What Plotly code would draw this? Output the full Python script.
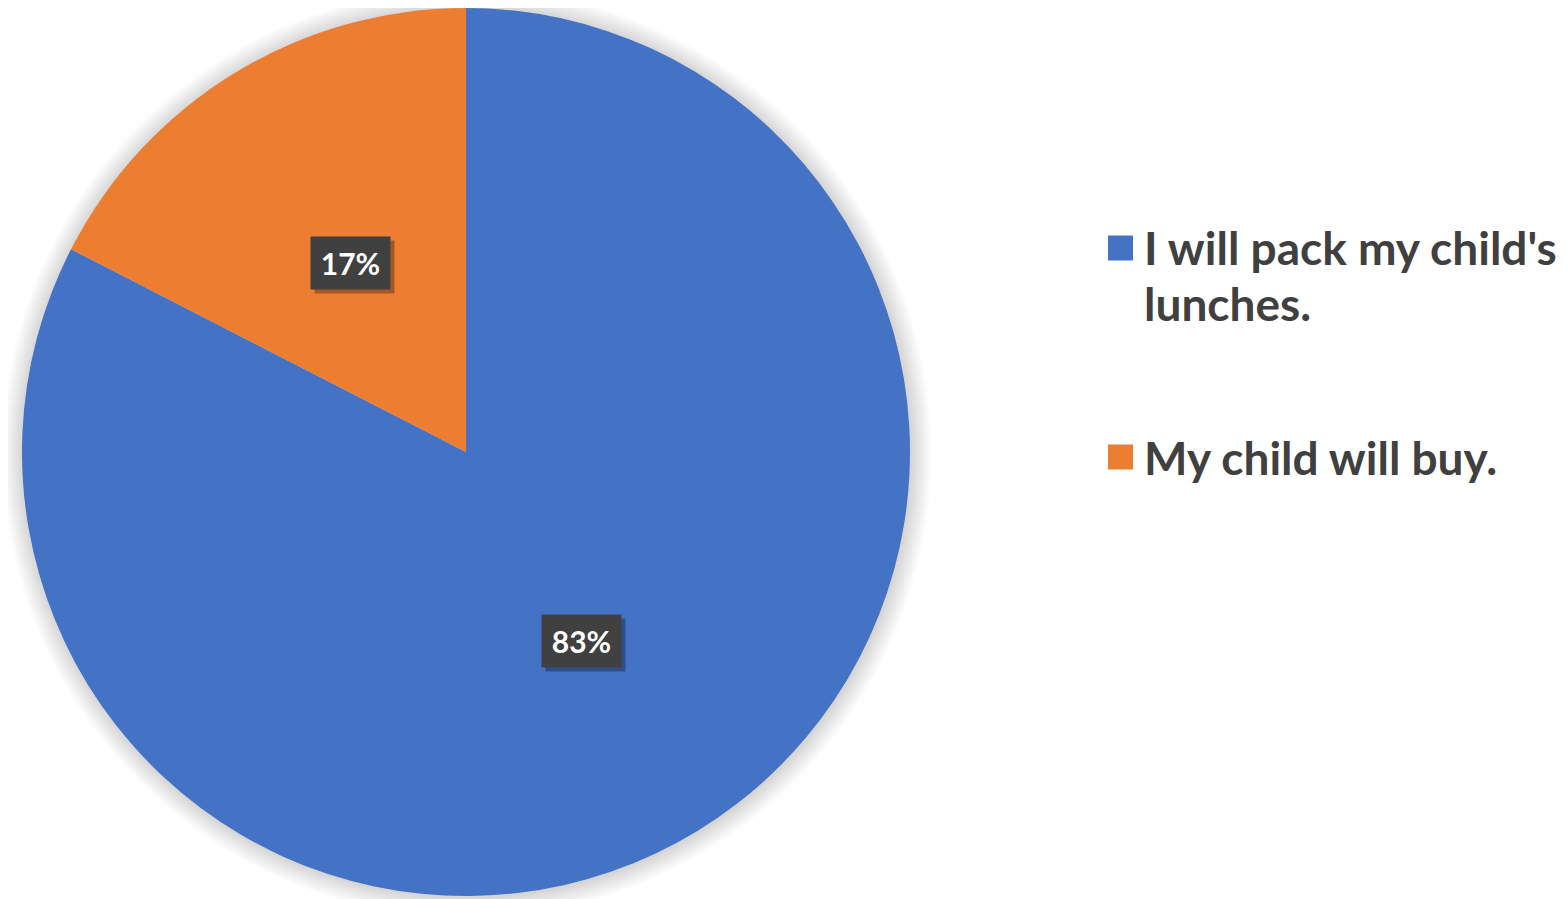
import math
import plotly.graph_objects as go

labels = ["I will pack my child's lunches.", "My child will buy."]
legend_lines = [["I will pack my child's", "lunches."], ["My child will buy."]]
values = [82.55, 17.45]
colors = ["#4472C4", "#ED7D31"]

W, H = 1568, 899
OFF = 8  # page body margin
cx, cy, R = 466, 452, 444


def X(px):
    return (px - OFF) / W


def Y(py):
    return 1 - (py - OFF) / H


fig = go.Figure()
fig.add_trace(go.Pie(
    labels=labels, values=values, sort=False, direction="clockwise", rotation=0,
    marker=dict(colors=colors, line=dict(width=0)),
    textinfo="none", hoverinfo="label+percent", showlegend=False,
    domain=dict(x=[X(cx - R), X(cx + R)], y=[max(0, Y(cy + R)), min(1, Y(cy - R))]),
))

shapes = []
# soft shadow around pie
for i in range(14):
    r = R + 1 + i * 1.5
    shapes.append(dict(type="circle", xref="paper", yref="paper", layer="below",
                       x0=X(cx - r + 1), x1=X(cx + r + 1),
                       y0=Y(cy + r + 1), y1=Y(cy - r + 1),
                       fillcolor="rgba(0,0,0,0.013)", line=dict(width=0)))

annotations = []
total = sum(values)
start = 0.0
for v in values:
    frac = v / total
    mid = (start + frac / 2) * 2 * math.pi
    start += frac
    px = cx + 0.5 * R * math.sin(mid)
    py = cy - 0.5 * R * math.cos(mid)
    txt = f"{round(frac * 100)}%"
    common = dict(x=X(px), y=Y(py), xref="paper", yref="paper", showarrow=False,
                  xanchor="center", yanchor="middle",
                  width=73, height=46, borderpad=3, align="center", valign="middle")
    annotations.append(dict(text="", bgcolor="rgba(0,0,0,0.3)", xshift=4, yshift=-4, **common))
    annotations.append(dict(text=f"<b>{txt}</b>", bgcolor="#404040",
                            font=dict(family="Lato", size=30, color="white"), **common))

# legend
leg_sq_y = [248, 457]
line_gap = 55
for lines, c, sy in zip(legend_lines, colors, leg_sq_y):
    shapes.append(dict(type="rect", xref="paper", yref="paper",
                       x0=X(1108), x1=X(1133), y0=Y(sy + 12.5), y1=Y(sy - 12.5),
                       fillcolor=c, line=dict(width=0)))
    for j, t in enumerate(lines):
        annotations.append(dict(text=f"<b>{t}</b>", xref="paper", yref="paper",
                                x=X(1142), y=Y(sy + j * line_gap), xanchor="left", yanchor="middle",
                                align="left", showarrow=False,
                                font=dict(family="Lato", size=46, color="#404040")))

fig.update_layout(width=W, height=H, margin=dict(l=0, r=0, t=0, b=0),
                  paper_bgcolor="white", plot_bgcolor="white",
                  shapes=shapes, annotations=annotations, showlegend=False)
fig.write_html("out.html")
